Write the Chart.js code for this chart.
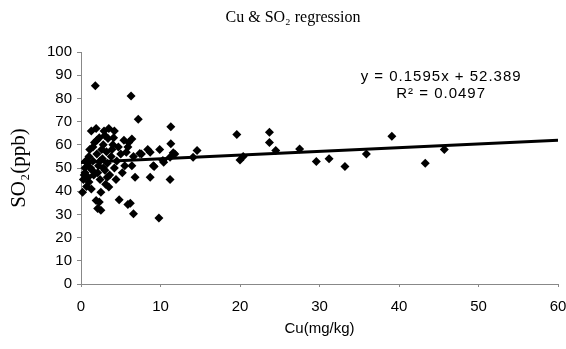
<!DOCTYPE html>
<html>
<head>
<meta charset="utf-8">
<script src="https://cdn.jsdelivr.net/npm/chart.js@4/dist/chart.umd.min.js"></script>
<style>
  html, body { margin: 0; padding: 0; background: #fff; }
  #wrap { width: 566px; height: 349px; }
</style>
</head>
<body>
<div id="wrap"><canvas id="chart"></canvas></div>
<script>
// Cu (mg/kg) and SO2 (ppb) pairs
const cuValues = [
  0.2, 0.3, 0.4, 0.5, 0.6, 0.5, 0.8, 1.0, 1.0, 1.2, 1.3, 1.3, 1.5, 1.5, 1.6, 1.8, 1.9, 1.9, 2.0, 2.0,
  2.1, 2.2, 2.3, 2.3, 2.4, 2.5, 2.5, 2.6, 2.7, 2.8, 2.9, 3.0, 3.1, 3.2, 3.3, 3.4, 3.5, 3.5, 3.6, 3.8,
  4.0, 4.2, 4.2, 4.4, 4.5, 4.7, 4.8, 5.0, 5.2, 5.4, 5.5, 5.9, 5.9, 6.0, 6.2, 6.3, 6.4, 6.4, 6.6, 6.6,
  6.8, 7.2, 7.6, 8.4, 8.7, 8.7, 9.1, 9.8, 9.9, 10.4, 11.2, 11.2, 11.3, 11.3, 11.6, 11.8,
  0.7, 1.1, 1.7, 2.1, 2.8, 3.0, 3.3, 3.9, 4.1, 1.4, 2.4, 0.9, 5.7, 7.4, 10.3, 9.2,
  14.1, 14.6, 19.6, 20.0, 20.4, 23.7, 23.7, 24.5, 27.5, 29.6, 31.2, 33.2, 35.9, 39.1, 43.3, 45.7
];
const so2Values = [
  39.6, 45, 47, 50, 53, 48, 52, 44, 55, 50, 41, 66, 59, 53, 47, 85.5, 67, 36, 62, 56,
  32.5, 51, 35.3, 63, 45, 31.8, 39.6, 58, 54, 60, 66, 49, 43, 57, 52, 62.7, 67, 41.8, 47, 55,
  60, 66, 50, 45, 53, 59, 36.3, 56, 48, 62, 51, 34.3, 59, 61, 34.8, 81, 62.5, 51, 55, 30.3,
  46, 71, 56, 58, 56.8, 46, 51, 28.5, 58, 52.5, 54.6, 45, 67.8, 60.4, 56.6, 56,
  42, 58, 61, 48, 50, 64, 46, 58, 63, 49, 53, 46, 56.8, 56.2, 53.2, 50.6,
  54.6, 57.5, 64.4, 53.5, 55, 65.4, 61, 57.5, 58.2, 52.8, 54, 50.6, 56, 63.7, 52.1, 58
];
const xTicks = [0, 10, 20, 30, 40, 50, 60];
const yTicks = [0, 10, 20, 30, 40, 50, 60, 70, 80, 90, 100];

// trend line given on the chart
const slope = 0.1595;
const intercept = 52.389;
const rSquared = 0.0497;
const trendX = [0, 60];

const points = cuValues.map((x, i) => ({ x: x, y: so2Values[i] }));
const trend = trendX.map(x => ({ x: x, y: slope * x + intercept }));

const sans = 'Liberation Sans, Arial, sans-serif';
const serif = 'Liberation Serif, Times New Roman, serif';

// title and regression equation
const chartTexts = {
  id: 'chartTexts',
  afterDatasetsDraw(chart) {
    const { ctx, scales } = chart;
    ctx.save();
    ctx.fillStyle = '#000';
    ctx.textAlign = 'center';
    ctx.textBaseline = 'middle';

    ctx.font = '16px ' + serif;
    ctx.fillText('Cu & SO\u2082 regression', 293, 18);

    const cx = scales.x.getPixelForValue(45.3);
    ctx.font = '15px ' + sans;
    ctx.letterSpacing = '1px';
    ctx.fillText('y = ' + slope + 'x + ' + intercept, cx, scales.y.getPixelForValue(89.4));
    ctx.fillText('R\u00b2 = ' + rSquared, cx, scales.y.getPixelForValue(82));
    ctx.restore();
  }
};

new Chart(document.getElementById('chart'), {
  type: 'scatter',
  data: {
    datasets: [
      {
        label: 'Cu vs SO2',
        data: points,
        pointStyle: 'rectRot',
        pointRadius: 4.5,
        pointBorderWidth: 0,
        backgroundColor: '#000',
        borderColor: '#000',
        clip: false
      },
      {
        type: 'line',
        label: 'trend',
        data: trend,
        borderColor: '#000',
        borderWidth: 3,
        pointRadius: 0,
        fill: false
      }
    ]
  },
  options: {
    responsive: true,
    maintainAspectRatio: false,
    animation: false,
    layout: { padding: { left: 0, right: 8, top: 52, bottom: 0 } },
    plugins: {
      legend: { display: false },
      tooltip: { enabled: false },
      title: { display: false }
    },
    scales: {
      x: {
        type: 'linear',
        min: 0,
        max: 60,
        afterBuildTicks: s => { s.ticks = xTicks.map(v => ({ value: v })); },
        afterFit: s => { s.height = 65; s.paddingLeft = 0; s.paddingRight = 0; },
        grid: { display: true, drawOnChartArea: false, tickLength: 3, color: '#888' },
        border: { color: '#888', width: 1, dash: [2, 1] },
        ticks: { color: '#000', padding: 11, maxRotation: 0, font: { family: sans, size: 15 } },
        title: {
          display: true,
          text: 'Cu(mg/kg)',
          color: '#000',
          font: { family: sans, size: 15 },
          padding: { top: 0, bottom: 11 }
        }
      },
      y: {
        type: 'linear',
        min: 0,
        max: 100,
        afterBuildTicks: s => { s.ticks = yTicks.map(v => ({ value: v })); },
        afterFit: s => { s.width = 81; s.paddingTop = 0; s.paddingBottom = 0; },
        grid: { display: true, drawOnChartArea: false, tickLength: 4, color: '#888' },
        border: { color: '#888', width: 1, dash: [2, 1] },
        ticks: { color: '#000', padding: 5, font: { family: sans, size: 15 } },
        title: {
          display: true,
          text: 'SO\u2082(ppb)',
          color: '#000',
          font: { family: serif, size: 21 },
          padding: { top: 7, bottom: 0 }
        }
      }
    }
  },
  plugins: [chartTexts]
});
</script>
</body>
</html>
